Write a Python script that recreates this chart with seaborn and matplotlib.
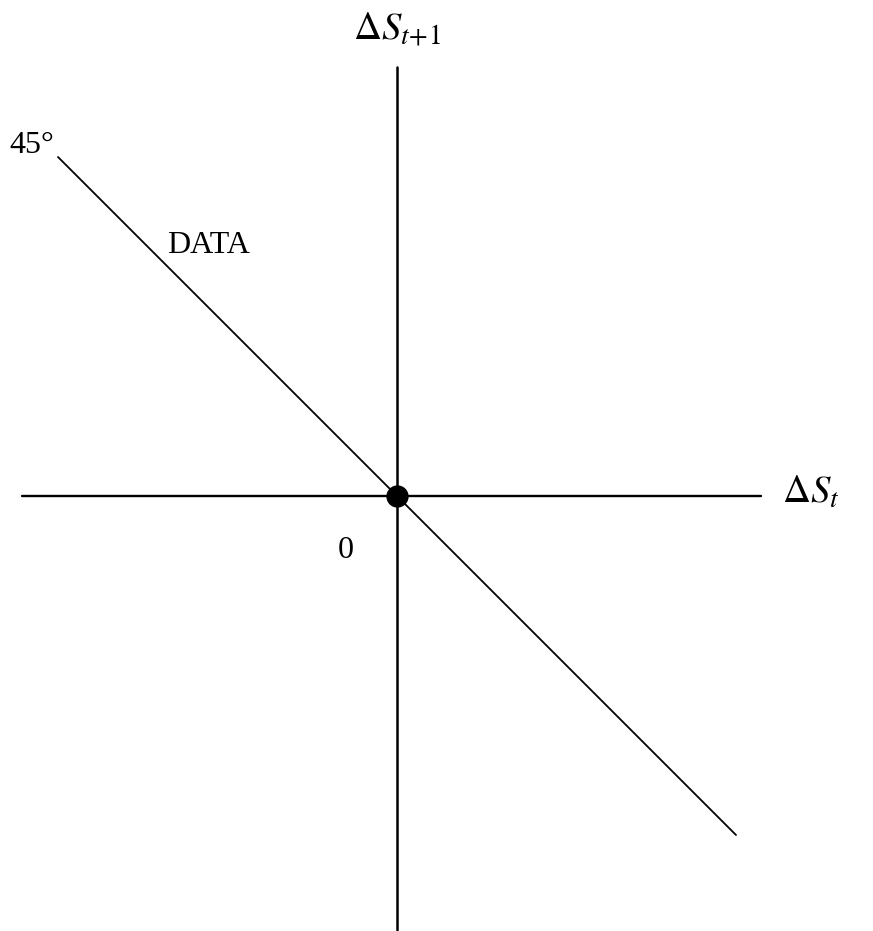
import matplotlib
matplotlib.use("Agg")
import matplotlib.pyplot as plt
import seaborn as sns
import pandas as pd

# diagram data (origin at the intersection of the axes)
diag_x = [-339, 339]
diag_y = [339, -339]
h_axis_x = [-375, 364]
v_axis_y = [429, -434]
origin_x = [0]
origin_y = [0]

labels = {
    "45°": (-388, 343),
    "DATA": (-230, 243),
    "0": (-59, -62),
}

sns.set_style("white")
plt.rcParams["font.family"] = ["Liberation Serif", "DejaVu Serif"]
plt.rcParams["mathtext.fontset"] = "stix"
plt.rcParams["text.color"] = "black"

fig = plt.figure(figsize=(8.73, 9.31), dpi=100)
ax = fig.add_axes([0, 0, 1, 1])

# axes lines
sns.lineplot(x=h_axis_x, y=[0, 0], color="black", linewidth=1.7, ax=ax)
sns.lineplot(x=[0, 0], y=v_axis_y, color="black", linewidth=1.8, ax=ax,
             orient="y")

# 45 degree data line
df = pd.DataFrame({"x": diag_x, "y": diag_y})
sns.lineplot(data=df, x="x", y="y", color="black", linewidth=1.3, ax=ax)

# origin point
sns.scatterplot(x=origin_x, y=origin_y, color="black", s=220, ax=ax,
                edgecolor="black", zorder=5)

for txt, (x, y) in labels.items():
    ax.text(x, y, txt, fontsize=23, ha="left", va="baseline", color="black")

ax.text(-44, 456, r"$\Delta S_{t\!+\!1}$", fontsize=28, ha="left",
        va="baseline", color="black")
ax.text(385, -7, r"$\Delta S_{t}$", fontsize=28, ha="left", va="baseline",
        color="black")

ax.set_xlim(-397, 476)
ax.set_ylim(-435, 496)
ax.set_axis_off()

fig.savefig("out.png", dpi=100)
